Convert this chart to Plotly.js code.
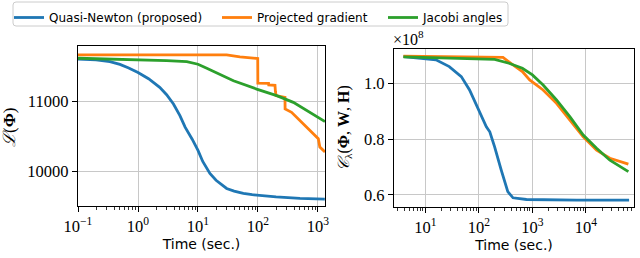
<!DOCTYPE html>
<html><head><meta charset="utf-8">
<script src="https://cdn.plot.ly/plotly-3.0.1.min.js"></script>
<style>html,body{margin:0;padding:0;background:#fff}#chart{width:640px;height:258px}</style>
</head><body><div id="chart"></div>
<script>
// Left panel: L(Phi) vs time
const qnTimeL = [0.1, 0.2, 0.34, 0.5, 0.7, 1, 1.5, 2.3, 3, 3.9, 5, 6.1, 8, 10, 12, 15.8, 20, 25, 30, 40, 57, 80, 139, 200, 501, 1300];
const qnValL  = [11610, 11600, 11576, 11535, 11485, 11419, 11330, 11205, 11100, 10967, 10800, 10633, 10460, 10300, 10140, 9967, 9870, 9800, 9752, 9715, 9681, 9662, 9643, 9630, 9610, 9600];
const pgTimeL = [0.1, 30, 50, 93, 99, 99.5, 150, 151, 192, 195, 200, 282, 283, 363, 501, 736, 1013, 1073, 1309];
const pgValL  = [11671, 11671, 11643, 11624, 11620, 11267, 11262, 11240, 11235, 11150, 11086, 11062, 10895, 10847, 10729, 10586, 10467, 10348, 10276];
const jaTimeL = [0.1, 1, 3, 6.5, 10, 14, 20, 39, 95, 205, 388, 1309];
const jaValL  = [11624, 11605, 11590, 11576, 11538, 11480, 11419, 11300, 11181, 11086, 10990, 10714];
// Right panel: C_lambda (x 1e8) vs time
const qnTimeR = [3.9, 15.8, 28, 47, 67, 100, 138, 160, 197, 261, 347, 434, 776, 6700, 64000];
const qnValR  = [1.0955, 1.084, 1.06, 1.024, 0.976, 0.904, 0.844, 0.826, 0.772, 0.689, 0.611, 0.589, 0.583, 0.581, 0.581];
const pgTimeR = [3.9, 282, 434, 650, 890, 1585, 2820, 5000, 8900, 15800, 28000, 62000];
const pgValR  = [1.097, 1.093, 1.066, 1.042, 1.012, 0.976, 0.928, 0.868, 0.808, 0.760, 0.731, 0.710];
const jaTimeR = [3.9, 197, 365, 650, 1000, 1585, 2820, 5000, 8900, 15800, 28000, 62000];
const jaValR  = [1.095, 1.086, 1.072, 1.054, 1.030, 0.994, 0.940, 0.880, 0.814, 0.767, 0.724, 0.683];
const names = ['Quasi-Newton (proposed)', 'Projected gradient', 'Jacobi angles'];
const colors = ['#1f77b4', '#ff7f0e', '#2ca02c'];
const xTickValsL = [0.1, 1, 10, 100, 1000];
const xTickTextL = ['10<sup>−1</sup>', '10<sup>0</sup>', '10<sup>1</sup>', '10<sup>2</sup>', '10<sup>3</sup>'];
const xTickValsR = [10, 100, 1000, 10000];
const xTickTextR = ['10<sup>1</sup>', '10<sup>2</sup>', '10<sup>3</sup>', '10<sup>4</sup>'];
const yTickValsL = [10000, 11000];
const yTickValsR = [0.6, 0.8, 1.0];

// minor log tick positions (2..9 per decade)
const minorTicks = [];
for (let d = -2; d <= 5; d++) for (let k = 2; k <= 9; k++) minorTicks.push(k * Math.pow(10, d));

const serif = '"Liberation Serif", "DejaVu Serif", serif';
const sans = '"DejaVu Sans", sans-serif';
const lw = 2.8;
const legendIds = ['legend', 'legend2', 'legend3'];
const traces = [
  {x: qnTimeL, y: qnValL, name: names[0], legend: legendIds[0], line: {color: colors[0], width: lw}, xaxis: 'x', yaxis: 'y'},
  {x: pgTimeL, y: pgValL, name: names[1], legend: legendIds[1], line: {color: colors[1], width: lw}, xaxis: 'x', yaxis: 'y'},
  {x: jaTimeL, y: jaValL, name: names[2], legend: legendIds[2], line: {color: colors[2], width: lw}, xaxis: 'x', yaxis: 'y'},
  {x: qnTimeR, y: qnValR, name: names[0], showlegend: false, line: {color: colors[0], width: lw}, xaxis: 'x2', yaxis: 'y2'},
  {x: pgTimeR, y: pgValR, name: names[1], showlegend: false, line: {color: colors[1], width: lw}, xaxis: 'x2', yaxis: 'y2'},
  {x: jaTimeR, y: jaValR, name: names[2], showlegend: false, line: {color: colors[2], width: lw}, xaxis: 'x2', yaxis: 'y2'}
].map(t => Object.assign({type: 'scatter', mode: 'lines'}, t));

const W = 640, H = 258;
function axBase() {
  return {showline: true, mirror: true, linecolor: '#000', linewidth: 1.2,
    ticks: 'outside', ticklen: 5, tickcolor: '#000', tickwidth: 1,
    showgrid: true, gridcolor: '#c8c8c8', gridwidth: 1, zeroline: false,
    tickfont: {family: serif, size: 16.5, color: '#000'}};
}
const minorSpec = {tickvals: minorTicks, ticks: 'outside', ticklen: 3, tickcolor: '#000', tickwidth: 0.8, showgrid: false};
const xTitle = {text: 'Time (sec.)', font: {family: sans, size: 14, color: '#000'}, standoff: 2};
const xa = Object.assign(axBase(), {type: 'log', domain: [78/W, 325/W], anchor: 'y',
  range: [-1, Math.log10(1309)], tickmode: 'array', tickvals: xTickValsL, ticktext: xTickTextL,
  minor: minorSpec, title: xTitle});
const ya = Object.assign(axBase(), {domain: [1 - 206/H, 1 - 46/H], anchor: 'x',
  range: [9500, 11800], tickmode: 'array', tickvals: yTickValsL, ticktext: yTickValsL.map(String)});
const xa2 = Object.assign(axBase(), {type: 'log', domain: [394/W, 634/W], anchor: 'y2',
  range: [Math.log10(2.6), Math.log10(79000)], tickmode: 'array', tickvals: xTickValsR, ticktext: xTickTextR,
  minor: minorSpec, title: xTitle});
const ya2 = Object.assign(axBase(), {domain: [1 - 207/H, 1 - 49/H], anchor: 'x2',
  range: [0.556, 1.123], tickmode: 'array', tickvals: yTickValsR, ticktext: yTickValsR.map(v => v.toFixed(1))});

function leg(px) {
  return {orientation: 'h', x: px/W, y: 1 - 3/H, xanchor: 'left', yanchor: 'top',
    bgcolor: 'rgba(0,0,0,0)', borderwidth: 0, itemwidth: 30,
    font: {family: sans, size: 12, color: '#000'}};
}
// rounded legend frame (paper coordinates)
const fx0 = 13/W, fx1 = 508/W, fy0 = 1 - 26/H, fy1 = 1 - 2/H, rx = 3/W, ry = 3/H;
const framePath = `M ${fx0+rx},${fy1} L ${fx1-rx},${fy1} Q ${fx1},${fy1} ${fx1},${fy1-ry} L ${fx1},${fy0+ry} Q ${fx1},${fy0} ${fx1-rx},${fy0} L ${fx0+rx},${fy0} Q ${fx0},${fy0} ${fx0},${fy0+ry} L ${fx0},${fy1-ry} Q ${fx0},${fy1} ${fx0+rx},${fy1} Z`;
const layout = {
  width: W, height: H, margin: {l: 0, r: 0, t: 0, b: 0},
  paper_bgcolor: '#fff', plot_bgcolor: '#fff',
  font: {family: sans, size: 12, color: '#000'},
  xaxis: xa, yaxis: ya, xaxis2: xa2, yaxis2: ya2,
  showlegend: true,
  legend: leg(9), legend2: leg(217), legend3: leg(383),
  shapes: [
    {type: 'path', xref: 'paper', yref: 'paper', path: framePath,
      line: {color: '#cccccc', width: 1}, fillcolor: 'rgba(255,255,255,0.8)', layer: 'below'}
  ],
  annotations: [
    {xref: 'paper', yref: 'paper', x: 9/W, y: 1 - 128/H, text: '<i>ℒ</i>(<b>Φ</b>)', textangle: -90,
      showarrow: false, font: {family: serif, size: 17, color: '#000'}, xanchor: 'center', yanchor: 'middle'},
    {xref: 'paper', yref: 'paper', x: 344/W, y: 1 - 128/H, text: '<i>𝒞</i><sub>λ</sub>(<b>Φ</b>, <b>W</b>, <b>H</b>)', textangle: -90,
      showarrow: false, font: {family: serif, size: 16, color: '#000'}, xanchor: 'center', yanchor: 'middle'},
    {xref: 'paper', yref: 'paper', x: 392/W, y: 1 - 48.5/H, text: '×10<sup>8</sup>', borderpad: 0,
      showarrow: false, font: {family: serif, size: 16, color: '#000'}, xanchor: 'left', yanchor: 'bottom'}
  ]
};
Plotly.newPlot('chart', traces, layout, {staticPlot: true, displayModeBar: false});
</script></body></html>
